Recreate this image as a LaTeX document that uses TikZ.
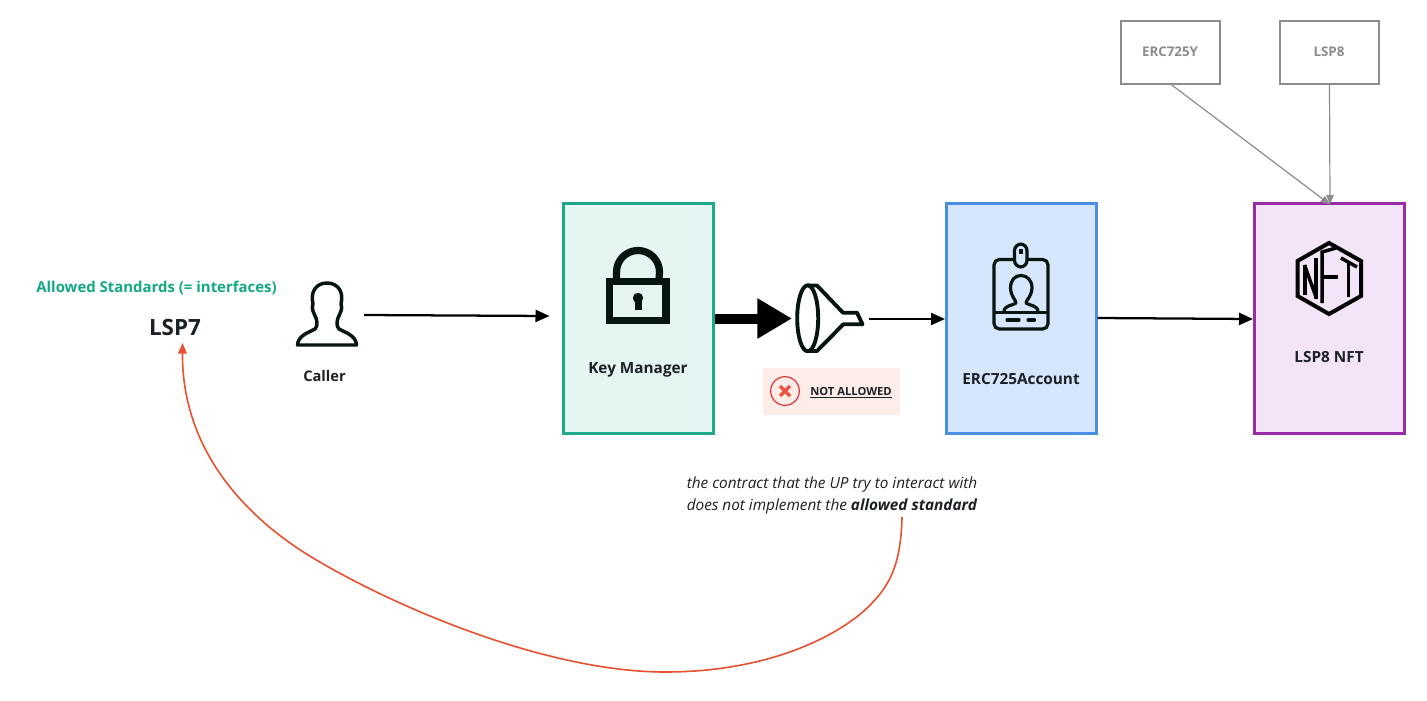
\documentclass[tikz,border=0pt]{standalone}
\usepackage{fontspec}
\setmainfont{Open Sans}
\usetikzlibrary{arrows.meta,calc}
\definecolor{inkc}{HTML}{1B2126}
\definecolor{iconc}{HTML}{06150F}
\definecolor{tealc}{HTML}{1FA88C}
\definecolor{tealf}{HTML}{E5F5F1}
\definecolor{bluec}{HTML}{4A8FE3}
\definecolor{bluef}{HTML}{D6E6FC}
\definecolor{purplec}{HTML}{9A2BA8}
\definecolor{purplef}{HTML}{F3E5F7}
\definecolor{grayc}{HTML}{8C8C8C}
\definecolor{redc}{HTML}{E8502F}
\definecolor{pinkf}{HTML}{FDECE8}
\definecolor{errc}{HTML}{D8393B}
\definecolor{xc}{HTML}{EE5342}
\definecolor{greent}{HTML}{14A885}
\tikzset{
  x=0.75pt,y=-0.75pt,
  bigbox/.style={draw,line width=2.25pt,minimum width=112.5pt,minimum height=172.5pt,inner sep=0pt,outer sep=0pt},
  smallbox/.style={draw=grayc,line width=1pt,fill=white,minimum width=74.25pt,minimum height=47.25pt,inner sep=0pt,outer sep=0pt},
  lbl/.style={inner sep=0pt,outer sep=0pt,font=\bfseries\fontsize{11.5}{13}\selectfont,text=inkc},
  smalllbl/.style={inner sep=0pt,outer sep=0pt,font=\bfseries\fontsize{10}{12}\selectfont,text=grayc},
  iconbox/.style={inner sep=0pt,outer sep=0pt},
  flow/.style={draw=black,line width=1.7pt,-{Triangle[length=10.5pt,width=9pt]}},
  thickflow/.style={draw=black,line width=7.5pt,-{Triangle[length=26pt,width=28.5pt]}},
  mixin/.style={draw=grayc,line width=0.9pt,-{Triangle[length=7pt,width=5.5pt]}},
  backflow/.style={draw=redc,line width=1.2pt,-{Triangle[length=8pt,width=6.5pt]}},
  iconline/.style={draw=iconc,line join=round,line cap=round},
}
\begin{document}
\begin{tikzpicture}
\useasboundingbox (0,0) rectangle (1427,700);
\fill[white] (0,0) rectangle (1427,700);

% main boxes
\node[bigbox,draw=tealc,fill=tealf] (km) at (638.5,318.5) {};
\node[bigbox,draw=bluec,fill=bluef] (erc) at (1021.5,318.5) {};
\node[bigbox,draw=purplec,fill=purplef] (nft) at (1329.5,318.5) {};
\node[smallbox] (ercy) at (1170.5,52.5) {};
\node[smallbox] (lspe) at (1329.5,52.5) {};
\node[smalllbl] (ercyt) at (1170,51.5) {ERC725Y};
\node[smalllbl] (lspet) at (1329,51.5) {LSP8};

% invisible extents of icons
\node[iconbox,minimum width=46.5pt,minimum height=49.5pt] (caller) at (327,314) {};
\node[iconbox,minimum width=49.5pt,minimum height=50pt] (funnel) at (830,318.5) {};

% caller icon
\draw[iconline,line width=2.6pt] (297.5,345) .. controls (298,335) and (310,332) .. (315,329)
  .. controls (318,326) and (317,321) .. (316,318)
  .. controls (314,313) and (311,309) .. (313,304)
  .. controls (310,292) and (316,283) .. (327,283)
  .. controls (338,283) and (344,292) .. (341,304)
  .. controls (343,309) and (340,313) .. (338,318)
  .. controls (337,321) and (336,326) .. (339,329)
  .. controls (344,332) and (356,335) .. (356.5,345) -- cycle;

% lock icon
\draw[iconc,line width=5.4pt] (609.5,281.5) rectangle (666,320.5);
\draw[iconc,line width=5.4pt] (616.5,279) -- (616.5,272) arc[start angle=180,end angle=360,x radius=21.5,y radius=21.5] -- (659,279);
\fill[iconc] (638,298) circle[radius=5.2];
\fill[iconc] (634.5,298) rectangle (641.5,310);

% funnel icon
\draw[iconline,line width=2.9pt] (807.7,318.3) ellipse[x radius=10.5,y radius=33];
\draw[iconline,line width=2.9pt] (808,285.5) -- (817,285.5) -- (843,312.7) -- (857,312.7) -- (862.5,324.3) -- (843.3,324.3) -- (817,351) -- (808,351);

% id card icon
\draw[iconc,line width=2.4pt,rounded corners=4pt,fill=bluef] (994,259.5) rectangle (1048,329);
\draw[iconc,line width=2.4pt,fill=bluef,rounded corners=5pt] (1014.5,244) rectangle (1027,267);
\fill[iconc] (1019,249) rectangle (1022.5,254);
\draw[iconc,line width=2.4pt] (994,312.5) -- (1048,312.5);
\draw[iconline,line width=2.4pt] (1004,312) .. controls (1004,305) and (1012,306) .. (1016,303)
  .. controls (1016,300) and (1011,297) .. (1010.5,288)
  .. controls (1010.5,280) and (1015,275.5) .. (1021,275.5)
  .. controls (1027,275.5) and (1032,280) .. (1032,288)
  .. controls (1031.5,297) and (1026,300) .. (1026,303)
  .. controls (1030,306) and (1038,305) .. (1038,312);
\draw[iconline,line width=2.4pt] (1007,320) -- (1019,320);
\draw[iconline,line width=2.4pt] (1028,320) -- (1034.5,320);

% NFT icon
\draw[black,line width=3pt,line join=miter] (1329,243) -- (1361,261) -- (1361,296) -- (1329,314) -- (1297.5,296) -- (1297.5,261) -- cycle;
\draw[black,line width=3pt] (1304.5,295) -- (1304.5,265);
\draw[black,line width=2.6pt] (1304.5,265) -- (1316,297);
\draw[black,line width=2.6pt] (1316,299) -- (1316,258);
\draw[black,line width=2.6pt] (1322,303) -- (1322,252) -- (1336,248);
\draw[black,line width=2.6pt] (1322,277) -- (1338,277);
\draw[black,line width=2.6pt] (1341,258) -- (1357,267);
\draw[black,line width=2.6pt] (1348.5,262) -- (1348.5,297);

% labels
\node[lbl,text=greent,font=\bfseries\fontsize{11.2}{13}\selectfont] (allowed) at (156.5,288) {Allowed Standards (= interfaces)};
\node[iconbox,font=\bfseries\fontsize{16.8}{20}\selectfont,text=inkc] (lsp7) at (175,327) {LSP7};
\node[lbl,font=\bfseries\fontsize{11}{13}\selectfont] (callert) at (324.5,376) {Caller};
\node[lbl] (kmt) at (638,370) {Key Manager};
\node[lbl] (erct) at (1021,379) {ERC725Account};
\node[lbl] (nftt) at (1329,357) {LSP8 NFT};

% not allowed badge
\node[iconbox,fill=pinkf,minimum width=102.75pt,minimum height=35.25pt] (badge) at (831.5,391.5) {};
\node[iconbox,draw=errc,line width=0.9pt,circle,minimum size=21.5pt] (errmark) at (785,391) {};
\draw[xc,line width=2.6pt] ($(errmark.center)+(-5,-5)$) -- ($(errmark.center)+(5,5)$);
\draw[xc,line width=2.6pt] ($(errmark.center)+(-5,5)$) -- ($(errmark.center)+(5,-5)$);
\node[iconbox,font=\bfseries\fontsize{8.4}{10}\selectfont,text=inkc] (nat) at (851,393) {\underline{NOT ALLOWED}};

% note
\node[iconbox,align=left,font=\itshape\fontsize{11.5}{16.5}\selectfont,text=inkc] (note) at (832,496)
  {the contract that the UP try to interact with\\does not implement the \textbf{allowed standard}};

% connectors
\draw[flow] ($(caller.center)+(37,1)$) -- ($(km.west)+(-14,-2.5)$);
\draw[thickflow] ($(km.east)+(1,0)$) -- ($(funnel.west)+(-5,0)$);
\draw[flow] ($(funnel.east)+(6,0.5)$) -- ($(erc.west)+(-1.5,0.5)$);
\draw[flow] ($(erc.east)+(1,-0.5)$) -- ($(nft.west)+(-1.5,0.5)$);
\draw[mixin] (ercy.south) -- ($(nft.north)+(0.5,1)$);
\draw[mixin] (lspe.south) -- ($(nft.north)+(0.5,1)$);
\draw[backflow] ($(note.center)+(70,21)$) .. controls (901,560) and (892,582) .. (873,602)
  .. controls (850,628) and (780,672) .. (665,672)
  .. controls (550,672) and (400,610) .. (313,558)
  .. controls (245,517) and (182,450) .. ($(lsp7.center)+(7.5,16)$);
\end{tikzpicture}
\end{document}
